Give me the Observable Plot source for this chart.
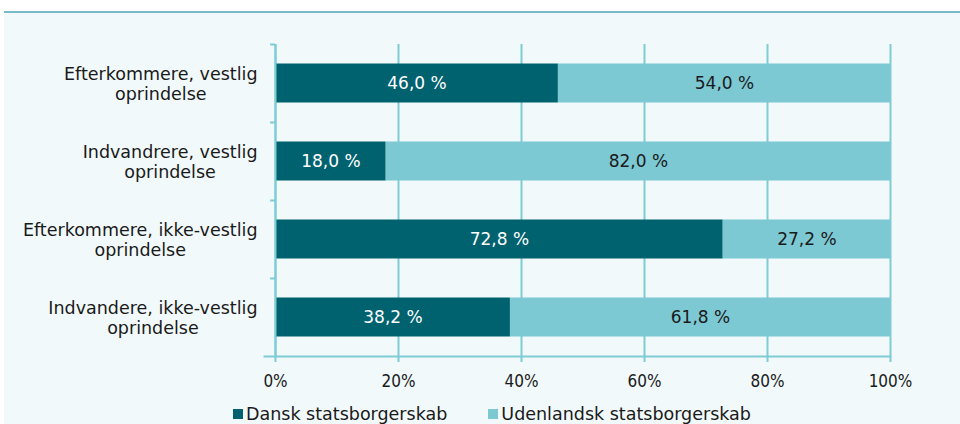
<!DOCTYPE html>
<html>
<head>
<meta charset="utf-8">
<script src="https://cdn.jsdelivr.net/npm/d3@7"></script>
<script src="https://cdn.jsdelivr.net/npm/@observablehq/plot@0.6"></script>
<style>
  html, body { margin: 0; padding: 0; background: #ffffff; overflow: hidden; }
  #panel {
    position: absolute; left: 4px; top: 11px; width: 956px; height: 420px;
    background: #f1f9fb; border-top: 2px solid #78bdc5;
    font-family: "DejaVu Sans", "Noto Sans", sans-serif;
  }
  #chart svg { display: block; }
  #legend { display: flex; align-items: center; margin-left: 229px; margin-top: 8px;
            font-size: 17.5px; color: #1a1a1a; line-height: 20px; }
  .item { display: flex; align-items: center; margin-right: 41px; }
  .sw { width: 10px; height: 10px; margin-right: 3px; }
</style>
</head>
<body>
<div id="panel">
  <div id="chart"></div>
  <div id="legend"></div>
</div>
<script>
const categories = [
  "Efterkommere, vestlig oprindelse",
  "Indvandrere, vestlig oprindelse",
  "Efterkommere, ikke-vestlig oprindelse",
  "Indvandere, ikke-vestlig oprindelse"
];
const categoryLabels = [
  "Efterkommere, vestlig\noprindelse",
  "Indvandrere, vestlig\noprindelse",
  "Efterkommere, ikke-vestlig\noprindelse",
  "Indvandere, ikke-vestlig\noprindelse"
];
const series = ["Dansk statsborgerskab", "Udenlandsk statsborgerskab"];
const dansk = [46.0, 18.0, 72.8, 38.2];
const udenlandsk = [54.0, 82.0, 27.2, 61.8];
const xTicks = [0, 20, 40, 60, 80, 100];
const colors = ["#00626f", "#7cc8d3"];

const rows = [];
categories.forEach((c, i) => {
  rows.push({cat: c, series: series[0], value: dansk[i]});
  rows.push({cat: c, series: series[1], value: udenlandsk[i]});
});
const labelOf = new Map(categories.map((c, i) => [c, categoryLabels[i]]));
const fmt = v => v.toFixed(1).replace(".", ",") + " %";

const W = 956, H = 383, mL = 271, mR = 70, mT = 31, mB = 40;
const step = (H - mT - mB) / categories.length;
const grid = "#7fcbd6";
const font = '"DejaVu Sans", "Noto Sans", sans-serif';
const condensed = '"DejaVu Sans Condensed", "DejaVu Sans", sans-serif';

const chart = Plot.plot({
  width: W, height: H,
  marginLeft: mL, marginRight: mR, marginTop: mT, marginBottom: mB,
  style: {background: "transparent", fontFamily: font, fontSize: "17px", color: "#1a1a1a"},
  x: {domain: [0, 100]},
  y: {domain: categories, padding: 0},
  color: {domain: series, range: colors},
  marks: [
    Plot.gridX(xTicks, {stroke: grid, strokeOpacity: 1, strokeWidth: 2}),
    Plot.barX(rows, {y: "cat", x: "value", fill: "series", insetTop: step * 0.25, insetBottom: step * 0.25}),
    Plot.text(rows, Plot.stackX({
      y: "cat", x: "value", text: d => fmt(d.value),
      fill: d => d.series === series[0] ? "#ffffff" : "#1a1a1a",
      fontSize: 17
    })),
    Plot.ruleX([0], {stroke: grid, strokeWidth: 2}),
    Plot.ruleY(categories, {y: d => d, x1: -0.8, x2: 0, dy: -step / 2, stroke: grid, strokeWidth: 2}),
    Plot.frame({anchor: "bottom", stroke: grid, strokeOpacity: 1, strokeWidth: 2, insetLeft: -11}),
    Plot.axisX(xTicks, {tickFormat: d => d + "%", tickSize: 6, tickPadding: 12, stroke: grid, strokeWidth: 2, fill: "#1a1a1a", fontSize: 17, fontFamily: condensed, label: null}),
    Plot.axisY({tickFormat: d => labelOf.get(d), tickSize: 0, tickPadding: 18, fontSize: 17.5, lineHeight: 1.15, fill: "#1a1a1a", label: null})
  ]
});
document.getElementById("chart").appendChild(chart);

// center each multi-line y label within its own block (right edge kept)
chart.querySelectorAll('g[aria-label="y-axis tick label"] text').forEach(t => {
  const w = t.getBBox().width;
  t.setAttribute("text-anchor", "middle");
  const spans = t.querySelectorAll("tspan");
  if (spans.length) spans.forEach(s => s.setAttribute("x", -w / 2));
  else t.setAttribute("x", -w / 2);
});

const legend = document.getElementById("legend");
series.forEach((s, i) => {
  const item = document.createElement("div");
  item.className = "item";
  const sw = document.createElement("span");
  sw.className = "sw";
  sw.style.background = colors[i];
  const tx = document.createElement("span");
  tx.textContent = s;
  item.appendChild(sw); item.appendChild(tx);
  legend.appendChild(item);
});
</script>
</body>
</html>
